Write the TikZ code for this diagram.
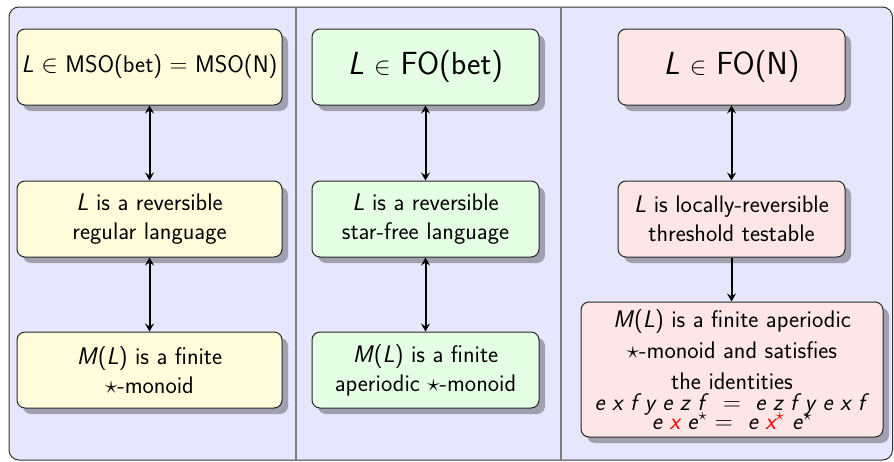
\documentclass[tikz,border=0pt]{standalone}
\usetikzlibrary{arrows.meta,shadows}
\renewcommand{\familydefault}{\sfdefault}
\definecolor{panelbg}{RGB}{230,230,252}
\definecolor{yelfill}{RGB}{255,252,220}
\definecolor{grnfill}{RGB}{228,255,228}
\definecolor{redfill}{RGB}{255,230,230}
\begin{document}
\begin{tikzpicture}[x=1pt,y=-1pt,
  stmt/.style={draw=black!85, line width=1pt, rounded corners=8pt,
    align=center, inner sep=0pt,
    font=\fontsize{24}{29}\selectfont,
    drop shadow={shadow xshift=6pt, shadow yshift=-6pt, fill=black, opacity=0.3}},
  narrowbox/.style={stmt, minimum width=227pt, minimum height=76pt},
  widebox/.style={stmt, minimum width=265pt, minimum height=76pt},
  bigtext/.style={font=\fontsize{32}{36}\selectfont},
  tip/.tip={Stealth[length=8pt,width=9pt,inset=3pt]},
  equiv/.style={line width=2pt, tip-tip},
  implies/.style={line width=2pt, -tip},
  divider/.style={draw=black!50, line width=2pt}]
\useasboundingbox (0,0) rectangle (894,461);

% outer frame and column separators
\draw[draw=black!80, fill=panelbg, line width=1pt, rounded corners=10pt]
  (9,7) rectangle (892.5,460);
\draw[divider] (296,7.5) -- (296,459.5);
\draw[divider] (561,7.5) -- (561,459.5);

% left column: MSO
\node[widebox, fill=yelfill] (a1) at (149.5,67)
  {\textit{L} $\in$ MSO(bet) $=$ MSO(N)};
\node[widebox, fill=yelfill] (a2) at (149.5,219)
  {\textit{L} is a reversible\\regular language};
\node[widebox, fill=yelfill] (a3) at (149.5,370)
  {\textit{M}(\textit{L}) is a finite\\$\star$-monoid};

% middle column: FO(bet)
\node[narrowbox, fill=grnfill, bigtext] (b1) at (425.5,67)
  {\textit{L} $\in$ FO(bet)};
\node[narrowbox, fill=grnfill] (b2) at (425.5,219)
  {\textit{L} is a reversible\\star-free language};
\node[narrowbox, fill=grnfill] (b3) at (425.5,370)
  {\textit{M}(\textit{L}) is a finite\\aperiodic $\star$-monoid};

% right column: FO(N)
\node[narrowbox, fill=redfill, bigtext] (c1) at (731.5,67)
  {\textit{L} $\in$ FO(N)};
\node[narrowbox, fill=redfill] (c2) at (731.5,219)
  {\textit{L} is locally-reversible\\threshold testable};
\node[stmt, fill=redfill, minimum width=302pt, minimum height=135pt,
      font=\fontsize{24}{31}\selectfont] (c3) at (732,369.5)
  {\textit{M}(\textit{L}) is a finite aperiodic\\
   $\star$-monoid and satisfies\\
   the identities\\[-10pt]
   \textit{e x f y e z f} $\;=\;$ \textit{e z f y e x f}\\[-12pt]
   \textit{e {\color{red}x} e}$^\star$ $=$ \ \textit{e {\color{red}x}}{\color{red}$^\star$} \textit{e}$^\star$};

% connectors
\draw[equiv] (a1) -- (a2);
\draw[equiv] (a2) -- (a3);
\draw[equiv] (b1) -- (b2);
\draw[equiv] (b2) -- (b3);
\draw[equiv] (c1) -- (c2);
\draw[implies] (c2.south) -- (c2.south |- c3.north);
\end{tikzpicture}
\end{document}
